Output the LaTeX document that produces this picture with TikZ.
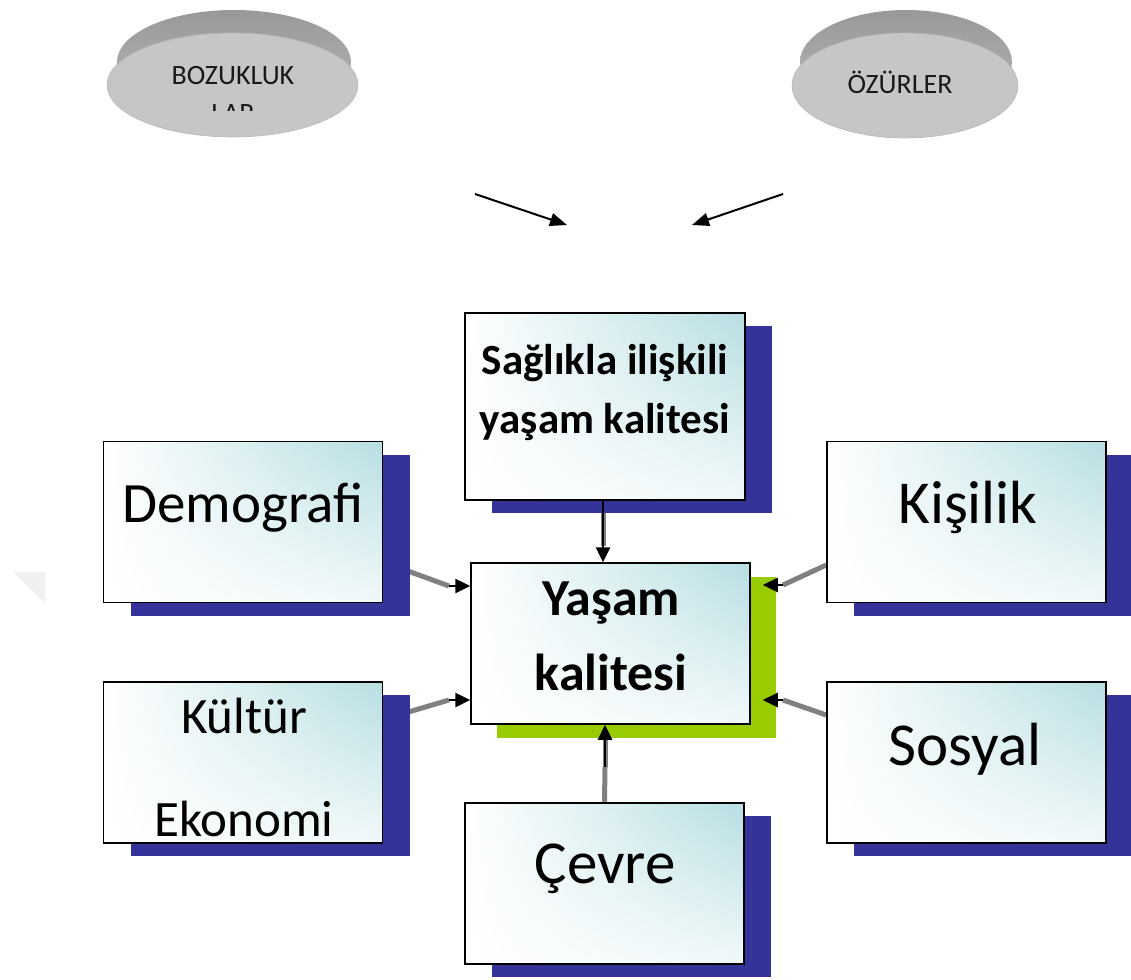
\documentclass[tikz,border=0pt]{standalone}
\usepackage{fontspec}
\setmainfont{Carlito}
\usetikzlibrary{arrows.meta,shadows,shadings,shapes.geometric,backgrounds,calc}
\definecolor{navy}{RGB}{51,51,153}
\definecolor{limeg}{RGB}{153,204,0}
\definecolor{tealc}{RGB}{183,222,226}
\definecolor{conn}{RGB}{128,128,128}
\definecolor{discface}{RGB}{198,198,198}
\begin{document}
\begin{tikzpicture}[x=1pt,y=-1pt,
  boxbase/.style={rectangle, draw=black, line width=1.5pt, minimum width=279pt,
    minimum height=161pt, inner sep=0pt, shade, shading=bilinear interpolation,
    upper left=white, upper right=tealc, lower left=white, lower right=white!80!tealc},
  box/.style={boxbase, general shadow={fill=navy, shadow xshift=27pt, shadow yshift=-13pt}},
  mainbox/.style={boxbase, general shadow={fill=limeg, shadow xshift=26pt, shadow yshift=-14pt}},
  disc/.style={ellipse, fill=discface, draw=black!28, line width=0.6pt, inner sep=0pt},
  rim/.style={top color=black!40, bottom color=black!28},
  disctext/.style={font=\fontsize{28}{38}\selectfont, text=black!90, align=center, anchor=base},
  lbl/.style={anchor=base, align=center, text=black},
  grayline/.style={draw=conn, line width=5pt},
  blackarrow/.style={draw=black, line width=2.5pt, -{Triangle[length=15pt,width=14pt]}},
  toparrow/.style={draw=black, line width=2pt, -{Triangle[length=17pt,width=13pt]}}]
\useasboundingbox (0,0) rectangle (1131,979);

% top discs
\shade[rim] (234,62) ellipse [x radius=117, y radius=52];
\node[disc, minimum width=251pt, minimum height=104pt] (boz) at (232.5,85) {};
\begin{scope}
  \clip (100,0) rectangle (370,111);
  \node[disctext] (boztext) at (233,122) {BOZUKLUK\\LAR};
\end{scope}
\shade[rim] (906,62) ellipse [x radius=106, y radius=52];
\node[disc, minimum width=226pt, minimum height=105pt] (ozur) at (905,85.5) {};
\node[disctext] (ozurtext) at (900,94) {ÖZÜRLER};

% top arrows
\coordinate (a1s) at (475,194);
\coordinate (a1e) at (567,225);
\coordinate (a2s) at (783,194);
\coordinate (a2e) at (692,225);
\draw[toparrow] (a1s) -- (a1e);
\draw[toparrow] (a2s) -- (a2e);

% boxes
\node[box, minimum width=280pt, minimum height=187pt] (sag) at (605,406.5) {};
\node[lbl, font=\bfseries\fontsize{43}{59}\selectfont] (sagt) at (605,433) {Sağlıkla ilişkili\\yaşam kalitesi};

\node[mainbox] (yasam) at (610.5,643.5) {};
\node[lbl, font=\bfseries\fontsize{52}{75}\selectfont] (yasamt) at (611,690) {Yaşam\\kalitesi};

\node[box] (demo) at (243,522) {};
\node[lbl, font=\fontsize{57}{60}\selectfont] (demot) at (243,522) {Demografi};

\node[box] (kult) at (243,762.5) {};
\node[lbl, font=\fontsize{51}{103}\selectfont] (kultt) at (244,836) {Kültür\\Ekonomi};

\node[box] (kis) at (966.5,522) {};
\node[lbl, font=\fontsize{61}{66}\selectfont] (kist) at (968,523) {Kişilik};

\node[box] (sos) at (966.5,762.5) {};
\node[lbl, font=\fontsize{61}{66}\selectfont] (sost) at (965,765) {Sosyal};

\node[box] (cev) at (604.5,883.5) {};
\node[lbl, font=\fontsize{61}{66}\selectfont] (cevt) at (605,883) {Çevre};

% connectors: gray parts behind
\coordinate (d1) at (449,586);
\coordinate (k1) at (449,700);
\coordinate (p1) at (783,585);
\coordinate (s1) at (783,700);
\coordinate (c1) at (605,767);
\begin{scope}[on background layer]
  \fill[black!6] (13,572) -- (45,572) -- (45,603) -- cycle;
  \draw[grayline] ([xshift=-2pt]sag.south) -- ++(0,45);
  \draw[grayline] ([yshift=-40pt]demo.east) -- (d1);
  \draw[grayline] ([yshift=43pt]kult.east) -- (k1);
  \draw[grayline] ([yshift=-43pt]kis.west) -- (p1);
  \draw[grayline] ([yshift=47.5pt]sos.west) -- (s1);
  \draw[grayline] (cev.north) -- (c1);
\end{scope}
\draw[grayline] (c1) -- ++(0,-29);
% black arrow parts
\draw[blackarrow] ([xshift=-2pt]sag.south) -- ([xshift=-2pt]sag.south |- yasam.north);
\draw[blackarrow] (d1) -- (d1 -| yasam.west);
\draw[blackarrow] (k1) -- (k1 -| yasam.west);
\draw[blackarrow] (p1) -- ([xshift=12pt]p1 -| yasam.east);
\draw[blackarrow] (s1) -- ([xshift=12pt]s1 -| yasam.east);
\draw[blackarrow] (c1) -- (c1 |- yasam.south);
\end{tikzpicture}
\end{document}
